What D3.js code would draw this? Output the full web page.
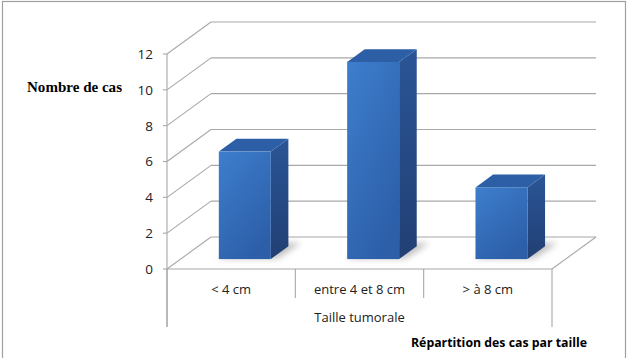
<!DOCTYPE html>
<html>
<head>
<meta charset="utf-8">
<script src="https://cdn.jsdelivr.net/npm/d3@7"></script>
<style>
  body { margin: 0; background: #fff; }
  svg { display: block; }
</style>
</head>
<body>
<svg id="chart" width="628" height="358"></svg>
<script>
// data
var categories = ["< 4 cm", "entre 4 et 8 cm", "> à 8 cm"];
var values = [6, 11, 4];
var yTicks = [0, 2, 4, 6, 8, 10, 12];

var svg = d3.select("#chart");

// front plane + depth offset of the 3d box
var x0 = 167, x1 = 552;
var DX = 44, DY = 32;
var d0 = 0.31, d1 = 0.71; // bar depth inside the box

var x = d3.scaleBand().domain(categories).range([x0, x1]).padding(0);
var y = d3.scaleLinear().domain([0, 12]).range([269, 54]);

function proj(px, v, d) {
  return [px + DX * d, y(v) - DY * d];
}

var defs = svg.append("defs");
var grad = defs.append("linearGradient").attr("id", "front")
  .attr("x1", "0").attr("y1", "0").attr("x2", "0.6").attr("y2", "1");
grad.append("stop").attr("offset", "0").attr("stop-color", "#3d7ecd");
grad.append("stop").attr("offset", "1").attr("stop-color", "#2d5fa9");
var gside = defs.append("linearGradient").attr("id", "side")
  .attr("x1", "0").attr("y1", "0").attr("x2", "0").attr("y2", "1");
gside.append("stop").attr("offset", "0").attr("stop-color", "#2a5596");
gside.append("stop").attr("offset", "1").attr("stop-color", "#213f74");
defs.append("filter").attr("id", "blur")
  .attr("x", "-50%").attr("y", "-50%").attr("width", "200%").attr("height", "200%")
  .append("feGaussianBlur").attr("stdDeviation", 3);

// outer frame
svg.append("rect")
  .attr("x", 2.5).attr("y", 1.5).attr("width", 623).attr("height", 370)
  .attr("fill", "#fff").attr("stroke", "#a0a0a0").attr("stroke-width", 1.2);

var grid = svg.append("g").attr("stroke", "#a8a8a8").attr("stroke-width", 1.1).attr("fill", "none");

// back wall lines and left wall diagonals
yTicks.forEach(function (t) {
  var a = proj(x0, t, 1), b = proj(x1, t, 1), c = proj(x0, t, 0);
  grid.append("line").attr("x1", a[0]).attr("y1", a[1]).attr("x2", b[0]).attr("y2", b[1]);
  grid.append("line").attr("x1", c[0]).attr("y1", c[1]).attr("x2", a[0]).attr("y2", a[1]);
});

// floor front edge and right edge
var f0 = proj(x0, 0, 0), f1 = proj(x1, 0, 0), f2 = proj(x1, 0, 1);
grid.append("line").attr("x1", f0[0]).attr("y1", f0[1]).attr("x2", f1[0]).attr("y2", f1[1]);
grid.append("line").attr("x1", f1[0]).attr("y1", f1[1]).attr("x2", f2[0]).attr("y2", f2[1]);

// value axis line + ticks
grid.append("line").attr("x1", x0).attr("y1", y(12)).attr("x2", x0).attr("y2", 327);
yTicks.forEach(function (t) {
  grid.append("line").attr("x1", x0 - 4).attr("y1", y(t)).attr("x2", x0).attr("y2", y(t));
});

// category separators below the floor
var edges = categories.map(function (c) { return x(c); }).concat([x1]);
edges.forEach(function (e, i) {
  var bottom = (i === 0 || i === edges.length - 1) ? 327 : 298;
  grid.append("line").attr("x1", e).attr("y1", y(0)).attr("x2", e).attr("y2", bottom);
});

var font = "'Open Sans', 'DejaVu Sans', sans-serif";

// tick labels
svg.append("g").selectAll("text").data(yTicks).join("text")
  .attr("x", 153).attr("y", function (d) { return y(d); })
  .attr("dy", "0.36em").attr("text-anchor", "end")
  .attr("font-family", font).attr("font-size", 13.5).attr("fill", "#222")
  .text(function (d) { return d; });

// category labels
svg.append("g").selectAll("text").data(categories).join("text")
  .attr("x", function (d) { return x(d) + x.bandwidth() / 2; }).attr("y", 289)
  .attr("dy", "0.36em").attr("text-anchor", "middle")
  .attr("font-family", font).attr("font-size", 13).attr("fill", "#222")
  .text(function (d) { return d; });

svg.append("text")
  .attr("x", (x0 + x1) / 2).attr("y", 317).attr("dy", "0.36em")
  .attr("text-anchor", "middle")
  .attr("font-family", font).attr("font-size", 13).attr("fill", "#222")
  .text("Taille tumorale");

// bars
var bw = x.bandwidth() * 0.405;
var bars = svg.append("g");
function pts(arr) { return arr.map(function (p) { return p.join(","); }).join(" "); }

categories.forEach(function (c, i) {
  var v = values[i];
  var cx = x(c) + x.bandwidth() / 2;
  var xl = cx - bw / 2, xr = cx + bw / 2;
  var g = bars.append("g");

  // soft shadow on the floor
  g.append("polygon")
    .attr("points", pts([proj(xl - 2, 0, d0 + 0.02), proj(xl + 4, 0, d1 + 0.1), proj(xr + 8, 0, d1 + 0.1), proj(xr + 6, 0, d0 + 0.02)]))
    .attr("fill", "#8a8a8a").attr("opacity", 0.55).attr("filter", "url(#blur)");

  g.append("polygon")
    .attr("points", pts([proj(xr, v, d0), proj(xr, v, d1), proj(xr, 0, d1), proj(xr, 0, d0)]))
    .attr("fill", "url(#side)");
  g.append("polygon")
    .attr("points", pts([proj(xl, v, d0), proj(xl, v, d1), proj(xr, v, d1), proj(xr, v, d0)]))
    .attr("fill", "#2d5fa6");
  var a = proj(xl, v, d0), b = proj(xr, 0, d0);
  g.append("rect")
    .attr("x", a[0]).attr("y", a[1]).attr("width", b[0] - a[0]).attr("height", b[1] - a[1])
    .attr("fill", "url(#front)");
});

// axis titles
svg.append("text")
  .attr("x", 27).attr("y", 87).attr("dy", "0.36em")
  .attr("font-family", "'Liberation Serif', 'DejaVu Serif', serif")
  .attr("font-weight", "bold").attr("font-size", 15).attr("fill", "#000")
  .attr("textLength", 95).attr("lengthAdjust", "spacingAndGlyphs")
  .text("Nombre de cas");

svg.append("text")
  .attr("x", 411).attr("y", 342).attr("dy", "0.36em")
  .attr("font-family", font).attr("font-weight", "bold")
  .attr("font-size", 12.5).attr("fill", "#000")
  .attr("textLength", 176).attr("lengthAdjust", "spacingAndGlyphs")
  .text("Répartition des cas par taille");
</script>
</body>
</html>
